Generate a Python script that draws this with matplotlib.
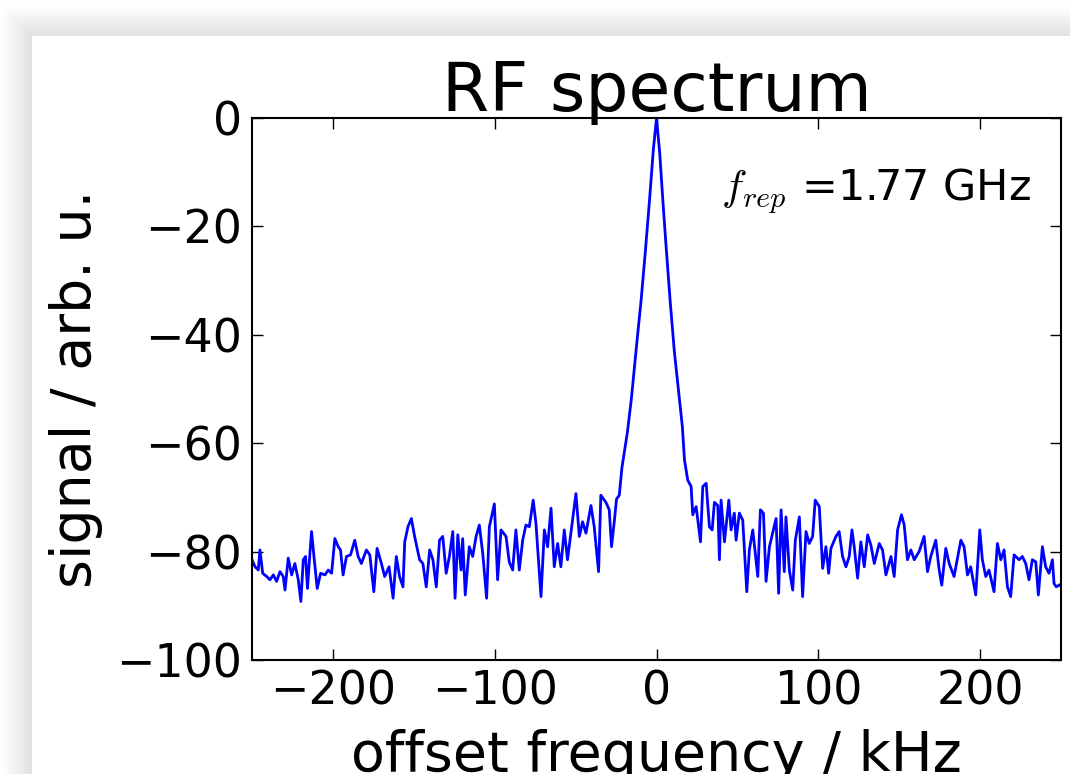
import numpy as np
import matplotlib
matplotlib.use('Agg')
import matplotlib.pyplot as plt
from matplotlib.patches import Rectangle

# values (offset frequency in kHz, signal in dB arb. u.)
freq_left = [-250, -248.1, -246.1, -245.1, -243.4, -240.9, -238.9, -236.8, -234.8, -232.7,
             -230.7, -229.6, -227.6, -225.5, -223.5, -221.4, -219.8, -218.3, -216.9, -215.7,
             -214.2, -213.2, -211.7, -209.7, -207.6, -204.9, -202.9, -200.8, -198.8, -196.7,
             -195.3, -193.7, -191.6, -189.1, -186.5, -184.4, -182.4, -179.3, -177.2, -174.7,
             -172.7, -170.0, -168.0, -165.3, -162.8, -160.8, -158.8, -156.7, -155.6, -153.6,
             -151.5, -149.5, -146.4, -144.4, -142.3, -140.2, -138.2, -136.1, -134.1, -132.1,
             -130.0, -128.0, -125.9, -124.5, -122.8, -120.8, -119.8, -118.2, -115.7, -113.6,
             -111.5, -109.5, -107.4, -105.0, -103.3, -100.2, -98.2, -96.1, -93.0, -91.0,
             -88.9, -86.9, -84.8, -82.7, -80.7, -78.6, -76.2, -74.5, -71.4, -69.3,
             -67.3, -65.2, -63.2, -61.1, -59.1, -57.0, -55.0, -52.9, -49.8, -47.7,
             -45.7, -43.6, -40.5, -38.5, -35.8, -34.4, -31.3, -29.2, -27.8, -26.1,
             -24.7, -23.0, -21.4]
signal_left = [-81.5, -82.8, -83.4, -79.7, -84.0, -84.6, -85.2, -84.3, -85.5, -83.7,
               -84.6, -87.1, -81.2, -84.3, -82.2, -85.2, -89.2, -81.5, -80.9, -86.8,
               -80.3, -76.3, -80.9, -86.8, -84.0, -84.3, -83.4, -84.0, -77.6, -79.1,
               -79.7, -84.3, -80.9, -80.6, -77.9, -80.9, -82.2, -79.7, -80.6, -87.4,
               -79.4, -82.2, -84.6, -82.8, -88.6, -80.9, -84.6, -86.5, -78.2, -75.4,
               -73.9, -77.2, -81.5, -82.2, -86.5, -79.7, -81.5, -86.5, -77.9, -77.2,
               -84.0, -80.9, -76.3, -88.6, -76.9, -83.4, -77.6, -88.0, -79.1, -80.9,
               -77.2, -75.1, -80.3, -88.6, -75.4, -71.2, -85.2, -76.0, -77.2, -81.9,
               -83.4, -76.0, -83.4, -77.9, -75.1, -75.4, -70.5, -74.8, -88.3, -76.0,
               -79.1, -72.0, -82.8, -78.5, -82.8, -76.0, -81.5, -76.6, -69.3, -77.2,
               -74.5, -76.6, -71.5, -75.4, -83.7, -69.6, -70.9, -72.3, -79.1, -74.5,
               -70.3, -69.6, -64.6]

freq_peak = [-18.0, -15.6, -12.0, -9.5, -7.0, -4.3, -2.0, 0.0,
             2.0, 3.9, 6.0, 8.4, 11.0, 14.2, 16.0, 17.3]
signal_peak = [-58.0, -52.0, -41.0, -33.6, -25.0, -15.1, -6.0, 0.0,
               -6.5, -15.1, -24.0, -33.6, -43.0, -52.0, -57.0, -63.1]

freq_right = [19.3, 21.4, 22.4, 24.5, 27.2, 28.6, 30.7, 32.7, 34.4, 35.8,
              37.9, 38.9, 39.9, 42.0, 44.7, 46.1, 48.1, 49.2, 51.2, 53.3,
              55.8, 57.4, 59.5, 62.6, 64.2, 66.1, 67.7, 69.8, 71.8, 73.9,
              75.5, 77.0, 79.0, 80.0, 82.1, 84.2, 85.8, 88.3, 90.3, 92.4,
              94.4, 96.5, 98.1, 100.6, 102.7, 104.7, 106.4, 107.8, 110.9, 112.9,
              115.0, 117.1, 119.1, 120.8, 122.2, 124.3, 126.3, 128.4, 130.5, 132.5,
              134.6, 137.7, 139.7, 141.8, 144.9, 146.9, 149.0, 151.4, 153.1, 155.1,
              157.2, 159.3, 162.3, 165.4, 167.5, 169.5, 172.6, 174.7, 176.3, 178.8,
              180.9, 183.9, 186.0, 188.1, 190.1, 192.2, 194.2, 197.3, 199.8, 201.4,
              203.5, 205.5, 208.6, 210.7, 212.8, 214.8, 216.9, 218.9, 221.0, 224.1,
              226.1, 228.2, 230.2, 232.3, 234.4, 236.0, 238.5, 240.5, 242.6, 244.7,
              245.7, 247.1, 250.0]
signal_right = [-66.8, -68.0, -73.2, -71.7, -78.2, -68.0, -67.4, -75.4, -76.0, -70.9,
                -71.5, -81.5, -70.5, -78.2, -70.5, -76.0, -72.9, -77.9, -72.9, -74.2,
                -87.4, -79.7, -76.0, -84.6, -72.3, -72.9, -85.5, -79.1, -76.6, -73.9,
                -87.7, -72.3, -83.7, -73.6, -83.4, -87.1, -77.9, -73.6, -88.3, -76.3,
                -78.5, -77.2, -70.5, -71.7, -83.1, -79.1, -84.0, -79.4, -77.2, -76.3,
                -80.9, -82.8, -80.9, -76.0, -79.1, -84.9, -78.2, -82.8, -76.9, -78.8,
                -82.2, -78.5, -79.7, -84.3, -80.9, -84.6, -76.0, -73.2, -75.1, -81.5,
                -79.7, -81.5, -80.0, -77.2, -83.7, -80.9, -77.9, -83.4, -86.2, -79.4,
                -82.2, -84.6, -81.2, -77.9, -79.1, -84.3, -82.8, -88.0, -76.0, -81.5,
                -84.6, -83.4, -87.4, -78.5, -81.5, -79.7, -86.5, -88.3, -80.6, -81.5,
                -80.9, -82.2, -85.2, -81.5, -81.9, -88.0, -79.1, -82.8, -84.0, -81.5,
                -85.9, -86.5, -86.0]

xticks = [-200, -100, 0, 100, 200]
yticks = [-100, -80, -60, -40, -20, 0]

freq = np.array(freq_left + freq_peak + freq_right)
signal = np.array(signal_left + signal_peak + signal_right)

plt.rcParams['mathtext.fontset'] = 'cm'

fig = plt.figure(figsize=(10.7, 7.74), dpi=100, facecolor='white')

# slide panel with a soft drop shadow
x0, y0 = 32 / 1070, 0.0
top = 1 - 36 / 774
for i in range(30, 0, -1):
    dx = i / 1070
    dy = i / 774
    fig.patches.append(Rectangle((x0 - dx, y0), 1.2, top - y0 + dy,
                                 transform=fig.transFigure, color='black',
                                 alpha=0.0024, lw=0, zorder=-2))
fig.patches.append(Rectangle((x0, y0), 1.2, top - y0, transform=fig.transFigure,
                             color='white', lw=0, zorder=-1))

ax = fig.add_axes([252 / 1070, 1 - 660 / 774, 809 / 1070, 542 / 774])
ax.set_zorder(2)
ax.patch.set_alpha(0)
ax.plot(freq, signal, color='b', lw=2.0)

ax.set_xlim(-250, 250)
ax.set_ylim(-100, 0)
ax.set_xticks(xticks)
ax.set_yticks(yticks)
ax.tick_params(direction='in', length=8, width=1, labelsize=33, pad=7,
               top=True, right=True)
for s in ax.spines.values():
    s.set_linewidth(1.5)

ax.set_title('RF spectrum', fontsize=49, pad=5)
ax.set_xlabel('offset frequency / kHz', fontsize=40, labelpad=10)
ax.set_ylabel('signal / arb. u.', fontsize=40, labelpad=10)
ax.text(0.963, 0.847, r'$f_{rep}$ =1.77 GHz', transform=ax.transAxes,
        fontsize=31, ha='right', va='baseline')

fig.savefig('out.png', dpi=100, facecolor=fig.get_facecolor())
